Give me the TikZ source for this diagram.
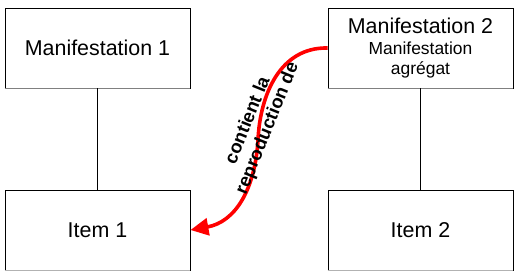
\documentclass[tikz,border=0pt]{standalone}
\usepackage{fontspec}
\setmainfont{Liberation Sans}
\usetikzlibrary{arrows.meta}
\begin{document}
\begin{tikzpicture}[x=1bp,y=-1bp,
  box/.style={draw=black,line width=0.9bp,minimum width=185bp,minimum height=80bp,inner sep=0pt,align=center,font=\fontsize{21.5}{24}\selectfont},
  link/.style={draw=black,line width=0.9bp},
  rel/.style={draw=red,line width=3.6bp,-{Triangle[length=18bp,width=17bp]}},
  lbl/.style={font=\fontsize{18.5}{21.3}\selectfont\bfseries,align=center,inner sep=0pt}]
\useasboundingbox (0,0) rectangle (520,278);
\node[box] (m1) at (97.5,48) {Manifestation 1};
\node[box] (m2) at (420.5,48) {Manifestation 2\\[-3bp]{\fontsize{17.5}{20}\selectfont Manifestation}\\[-4bp]{\fontsize{17.5}{20}\selectfont agrégat}};
\node[box] (i1) at (97.5,230) {Item 1};
\node[box] (i2) at (420.5,230) {Item 2};
\draw[gray,line width=1.8bp] (m1.south west) -- (m1.south east);
\draw[gray,line width=1.8bp] (m2.south west) -- (m2.south east);
\draw[gray!60,line width=1.5bp] (i1.south west) -- (i1.south east);
\draw[gray!60,line width=1.5bp] (i2.south west) -- (i2.south east);
\draw[link] (m1) -- (i1);
\draw[link] (m2) -- (i2);
\coordinate (mid) at (258,140);
\draw[rel] (m2.west) .. controls (280,47) and (260,95) .. (mid) .. controls (255,190) and (235,222) .. (i1.east);
\node[lbl,rotate=68] (t) at (258,124.5) {contient la\\reproduction de};
\end{tikzpicture}
\end{document}
